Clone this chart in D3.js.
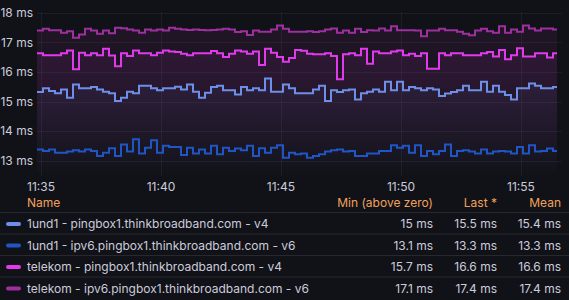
<!DOCTYPE html>
<html>
<head>
<meta charset="utf-8">
<script src="https://cdn.jsdelivr.net/npm/d3@7"></script>
<style>
  body { margin: 0; background: #111217; }
  svg { display: block; font-family: Inter, "Open Sans", sans-serif; }
</style>
</head>
<body>
<div id="chart"></div>
<script>
// series labels + colours (legend order)
const seriesNames = [
  "1und1 - pingbox1.thinkbroadband.com - v4",
  "1und1 - ipv6.pingbox1.thinkbroadband.com - v6",
  "telekom - pingbox1.thinkbroadband.com - v4",
  "telekom - ipv6.pingbox1.thinkbroadband.com - v6"
];
const seriesColors = ["#6e8fe8", "#1f55c4", "#e03aeb", "#9e2fa0"];

// legend stats
const statHeaders = ["Min (above zero)", "Last *", "Mean"];
const statMin  = ["15 ms", "13.1 ms", "15.7 ms", "17.1 ms"];
const statLast = ["15.5 ms", "13.3 ms", "16.6 ms", "17.4 ms"];
const statMean = ["15.4 ms", "13.3 ms", "16.6 ms", "17.4 ms"];

// samples every 15s from 11:34:50
const sampleStart = new Date(2024, 0, 1, 11, 34, 50);
const sampleStepSec = 15;

const v4_1und1 = [
  15.32, 15.45, 15.36, 15.28, 15.41, 15.13, 15.58, 15.45, 15.45, 15.49, 15.41, 15.33, 15.28, 15.02, 15.13, 15.33, 15.28, 15.53, 15.53, 15.45, 15.38, 15.45,
  15.45, 15.50, 15.41, 15.58, 15.33, 15.13, 15.30, 15.49, 15.53, 15.38, 15.38, 15.24, 15.49, 15.38, 15.45, 15.38, 15.78, 15.33, 15.33, 15.58, 15.45, 15.28,
  15.28, 15.28, 15.41, 15.53, 15.02, 15.38, 15.32, 15.38, 15.41, 15.07, 15.28, 15.33, 15.41, 15.33, 15.67, 15.38, 15.67, 15.38, 15.49, 15.45, 15.38, 15.45,
  15.41, 15.19, 15.27, 15.32, 15.38, 15.53, 15.38, 15.38, 15.67, 15.33, 15.53, 15.33, 15.22, 15.07, 15.45, 15.45, 15.61, 15.53, 15.45, 15.45, 15.49
];
const v6_1und1 = [
  13.38, 13.33, 13.38, 13.27, 13.27, 13.31, 13.35, 13.31, 13.38, 13.33, 13.16, 13.27, 13.42, 13.16, 13.55, 13.31, 13.72, 13.24, 13.44, 13.69, 13.27, 13.50,
  13.46, 13.46, 13.19, 13.44, 13.24, 13.38, 13.24, 13.50, 13.22, 13.44, 13.33, 13.41, 13.35, 13.50, 13.16, 13.42, 13.27, 13.44, 13.52, 13.10, 13.27, 13.22,
  13.24, 13.10, 13.16, 13.22, 13.31, 13.35, 13.38, 13.31, 13.33, 13.16, 13.16, 13.24, 13.24, 13.33, 13.33, 13.52, 13.44, 13.50, 13.27, 13.52, 13.16, 13.33,
  13.22, 13.33, 13.55, 13.16, 13.33, 13.35, 13.31, 13.24, 13.38, 13.24, 13.31, 13.33, 13.31, 13.24, 13.46, 13.24, 13.52, 13.31, 13.33, 13.41, 13.33
];
const v4_telekom = [
  16.63, 16.57, 16.57, 16.57, 16.63, 16.73, 16.09, 16.65, 16.57, 16.63, 16.57, 16.79, 16.56, 16.19, 16.63, 16.54, 16.73, 16.63, 16.63, 16.57, 16.65, 16.73,
  16.69, 16.68, 16.62, 16.57, 16.63, 16.63, 16.63, 16.71, 16.63, 16.51, 16.62, 16.73, 16.69, 16.62, 16.69, 16.24, 16.79, 16.65, 16.51, 16.35, 16.47, 16.74,
  16.72, 16.62, 16.60, 16.60, 16.63, 16.54, 15.75, 16.60, 16.63, 16.57, 16.79, 16.28, 16.69, 16.63, 16.63, 16.69, 16.73, 16.57, 16.62, 16.54, 16.63, 16.11,
  16.11, 16.63, 16.57, 16.63, 16.63, 16.57, 16.57, 16.57, 16.63, 16.68, 16.52, 16.74, 16.43, 16.57, 16.80, 16.52, 16.52, 16.63, 16.63, 16.49, 16.63
];
const v6_telekom = [
  17.40, 17.46, 17.41, 17.41, 17.33, 17.38, 17.16, 17.27, 17.46, 17.40, 17.29, 17.40, 17.31, 17.50, 17.48, 17.44, 17.40, 17.33, 17.44, 17.40, 17.44, 17.40,
  17.50, 17.46, 17.44, 17.42, 17.44, 17.42, 17.41, 17.42, 17.44, 17.46, 17.44, 17.35, 17.38, 17.25, 17.40, 17.36, 17.36, 17.44, 17.57, 17.46, 17.36, 17.36,
  17.36, 17.38, 17.35, 17.38, 17.44, 17.47, 17.33, 17.40, 17.33, 17.46, 17.35, 17.41, 17.40, 17.47, 17.40, 17.55, 17.41, 17.41, 17.41, 17.40, 17.21, 17.40,
  17.40, 17.46, 17.41, 17.41, 17.36, 17.29, 17.24, 17.40, 17.46, 17.38, 17.33, 17.55, 17.33, 17.44, 17.36, 17.57, 17.47, 17.40, 17.47, 17.47, 17.44
];
const seriesValues = [v4_1und1, v6_1und1, v4_telekom, v6_telekom];

const yTicks = [13, 14, 15, 16, 17, 18];

const W = 569, H = 300;
const plot = {left: 37, right: 562, top: 12, bottom: 176};

const svg = d3.select("#chart").append("svg")
  .attr("width", W).attr("height", H)
  .style("background", "#111217");

const tStart = sampleStart;
const tEnd = new Date(sampleStart.getTime() + 1312.5 * 1000);
const x = d3.scaleTime().domain([tStart, tEnd]).range([plot.left, plot.right]);
const y = d3.scaleLinear().domain([12.48, 18.03]).range([plot.bottom, plot.top]);

const timeAt = i => new Date(sampleStart.getTime() + i * sampleStepSec * 1000);
// last step runs until 11:56:30
const lineEnd = new Date(2024, 0, 1, 11, 56, 30);

const seriesData = seriesValues.map(vals => {
  const pts = vals.map((v, i) => ({t: timeAt(i), v: v}));
  pts.push({t: lineEnd, v: vals[vals.length - 1]});
  return pts;
});

// grid
const grid = svg.append("g").attr("stroke", "rgba(204,204,220,0.07)").attr("stroke-width", 1);
yTicks.forEach(t => {
  grid.append("line")
    .attr("x1", plot.left).attr("x2", plot.right)
    .attr("y1", Math.round(y(t)) + 0.5).attr("y2", Math.round(y(t)) + 0.5);
});
const xTicks = x.ticks(d3.timeMinute.every(5));
xTicks.forEach(t => {
  grid.append("line")
    .attr("x1", Math.round(x(t)) + 0.5).attr("x2", Math.round(x(t)) + 0.5)
    .attr("y1", plot.top).attr("y2", plot.bottom);
});

// gradients (opacity fades towards the bottom of the plot)
const defs = svg.append("defs");
seriesColors.forEach((c, i) => {
  const g = defs.append("linearGradient")
    .attr("id", "fill" + i)
    .attr("gradientUnits", "userSpaceOnUse")
    .attr("x1", 0).attr("x2", 0)
    .attr("y1", plot.top).attr("y2", plot.bottom);
  g.append("stop").attr("offset", "0%").attr("stop-color", c).attr("stop-opacity", 0.12);
  g.append("stop").attr("offset", "100%").attr("stop-color", c).attr("stop-opacity", 0);
});

const area = d3.area()
  .x(d => x(d.t))
  .y0(plot.bottom)
  .y1(d => y(d.v))
  .curve(d3.curveStepAfter);

const line = d3.line()
  .x(d => x(d.t))
  .y(d => y(d.v))
  .curve(d3.curveStepAfter);

svg.append("g").selectAll("path")
  .data(seriesData)
  .join("path")
  .attr("fill", (d, i) => "url(#fill" + i + ")")
  .attr("d", area);

svg.append("g").selectAll("path")
  .data(seriesData)
  .join("path")
  .attr("fill", "none")
  .attr("stroke", (d, i) => seriesColors[i])
  .attr("stroke-width", 2)
  .attr("stroke-linejoin", "miter")
  .attr("d", line);

// y axis labels
svg.append("g").selectAll("text")
  .data(yTicks)
  .join("text")
  .attr("x", 33)
  .attr("y", d => y(d))
  .attr("dy", "0.35em")
  .attr("text-anchor", "end")
  .attr("fill", "#ccccdc")
  .attr("font-size", 12)
  .text(d => d + " ms");

// x axis labels
const fmt = d3.timeFormat("%H:%M");
svg.append("g").selectAll("text")
  .data(xTicks)
  .join("text")
  .attr("x", d => x(d))
  .attr("y", 187)
  .attr("dy", "0.35em")
  .attr("text-anchor", "middle")
  .attr("fill", "#ccccdc")
  .attr("font-size", 12)
  .text(d => fmt(d));

// legend table
const headerColor = "#f2a15c";
const colRight = [433, 497, 561];
const legend = svg.append("g").attr("font-size", 12);

legend.append("text")
  .attr("x", 27).attr("y", 203).attr("dy", "0.35em")
  .attr("fill", headerColor).text("Name");
statHeaders.forEach((h, j) => {
  legend.append("text")
    .attr("x", colRight[j]).attr("y", 203).attr("dy", "0.35em")
    .attr("text-anchor", "end")
    .attr("fill", headerColor).text(h);
});

const rowY = [224, 245.5, 267, 288.5];
const statCols = [statMin, statLast, statMean];
seriesNames.forEach((name, i) => {
  const ry = rowY[i];
  legend.append("line")
    .attr("x1", 0).attr("x2", W)
    .attr("y1", ry - 11.5).attr("y2", ry - 11.5)
    .attr("stroke", "rgba(204,204,220,0.13)").attr("stroke-width", 1);
  legend.append("line")
    .attr("x1", 8).attr("x2", 19)
    .attr("y1", ry).attr("y2", ry)
    .attr("stroke", seriesColors[i]).attr("stroke-width", 4)
    .attr("stroke-linecap", "round");
  legend.append("text")
    .attr("x", 27).attr("y", ry).attr("dy", "0.35em")
    .attr("fill", "#ccccdc").text(name);
  statCols.forEach((col, j) => {
    legend.append("text")
      .attr("x", colRight[j]).attr("y", ry).attr("dy", "0.35em")
      .attr("text-anchor", "end")
      .attr("fill", "#ccccdc").text(col[i]);
  });
});
</script>
</body>
</html>
